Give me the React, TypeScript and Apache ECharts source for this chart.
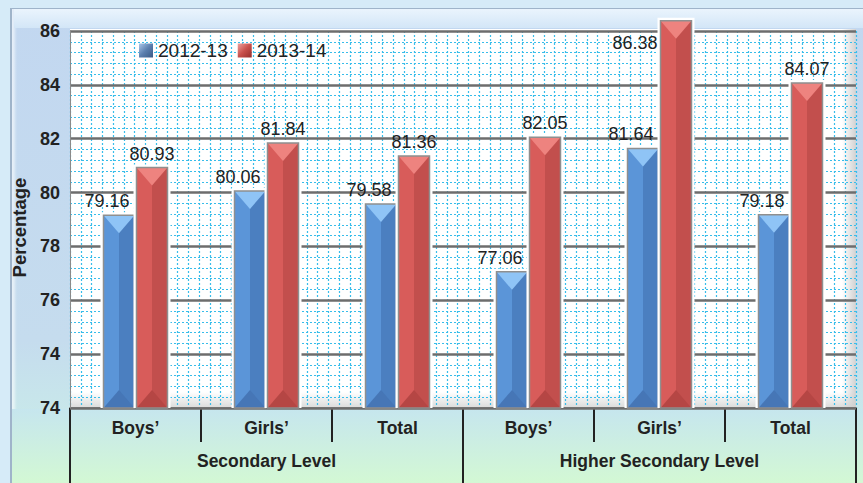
import React, { useEffect, useRef } from "react";
import * as echarts from "echarts";

const categories = ["Boys’", "Girls’", "Total", "Boys’", "Girls’", "Total"];
const levels = ["Secondary Level", "Higher Secondary Level"];
const seriesNames = ["2012-13", "2013-14"];
const values2012 = [79.16, 80.06, 79.58, 77.06, 81.64, 79.18];
const values2013 = [80.93, 81.84, 81.36, 82.05, 86.38, 84.07];
const yTicks = [72, 74, 76, 78, 80, 82, 84, 86];
const yTickLabels = ["74", "74", "76", "78", "80", "82", "84", "86"];
const minorColumns = 73;

const FONT = '"Liberation Sans", Arial, sans-serif';

const palettes = [
  { left: "#5b95d8", right: "#4b7fc0", top: "#8fc4f6", bottom: "#4676b6" },
  { left: "#d85c5a", right: "#c24f4d", top: "#ee837f", bottom: "#b54644" },
];

const makeRender = (side: number) => (params: any, api: any) => {
  const idx = api.value(0);
  const val = api.value(1);
  const p = api.coord([idx, val]);
  const b = api.coord([idx, yTicks[0]]);
  const cx = p[0];
  const yTop = p[1];
  const yBase = b[1];
  const w = 31;
  const x0 = side === 0 ? cx - 32 : cx + 1;
  const x1 = x0 + w;
  const xm = (x0 + x1) / 2;
  const h = yBase - yTop;
  const bev = Math.min(18, h / 2);
  const pal = palettes[side];
  const plotTop = params.coordSys && typeof params.coordSys.y === "number" ? params.coordSys.y : 31;
  let tx = side === 0 ? xm - 12 : xm;
  let ty = yTop - 5;
  let ta = "center";
  let va = "bottom";
  if (yTop - 24 < plotTop) {
    tx = x0 - 3;
    ty = yTop + 13;
    ta = "right";
    va = "top";
  }
  return {
    type: "group",
    children: [
      { type: "rect", shape: { x: x0 - 3, y: yTop - 3, width: w + 6, height: h + 3 }, style: { fill: "#ffffff" } },
      { type: "rect", shape: { x: xm, y: yTop, width: x1 - xm, height: h }, style: { fill: pal.right } },
      { type: "rect", shape: { x: x0, y: yTop, width: xm - x0, height: h }, style: { fill: pal.left } },
      { type: "polygon", shape: { points: [[x0, yTop], [x1, yTop], [xm, yTop + bev]] }, style: { fill: pal.top } },
      { type: "polygon", shape: { points: [[x0, yBase], [x1, yBase], [xm, yBase - bev]] }, style: { fill: pal.bottom } },
      { type: "rect", shape: { x: x0, y: yTop, width: w, height: h }, style: { fill: "none", stroke: "#8f8f8f", lineWidth: 1.5 } },
      {
        type: "text",
        x: tx,
        y: ty,
        style: { text: val.toFixed(2), fill: "#222222", fontSize: 18, fontFamily: FONT, align: ta, verticalAlign: va },
      },
    ],
  };
};

export default function App() {
  const ref = useRef<HTMLDivElement>(null);
  useEffect(() => {
    if (!ref.current) return;
    const chart = echarts.init(ref.current, null, { renderer: "svg" });
    const legendColors = [
      new echarts.graphic.LinearGradient(0, 0, 1, 1, [
        { offset: 0, color: "#a9c6ea" },
        { offset: 0.5, color: "#5b7fae" },
        { offset: 1, color: "#3a5a86" },
      ]),
      new echarts.graphic.LinearGradient(0, 0, 1, 1, [
        { offset: 0, color: "#f0a09c" },
        { offset: 0.5, color: "#c8504c" },
        { offset: 1, color: "#942e2c" },
      ]),
    ];
    const dataSets = [values2012, values2013];
    chart.setOption({
      animation: false,
      backgroundColor: "transparent",
      textStyle: { fontFamily: FONT },
      grid: { left: 70, right: 7, top: 31, bottom: 75, containLabel: false },
      legend: {
        data: seriesNames,
        left: 139,
        top: 41,
        padding: 0,
        icon: "rect",
        itemWidth: 14,
        itemHeight: 14,
        itemGap: 10,
        textStyle: { fontSize: 19, color: "#222222", fontFamily: FONT },
      },
      xAxis: [
        {
          type: "category",
          data: categories,
          position: "bottom",
          boundaryGap: true,
          axisLine: { show: true, lineStyle: { color: "#8a8a8a", width: 2 } },
          axisTick: { show: true, length: 34, lineStyle: { color: "#222222", width: 2 } },
          axisLabel: { fontSize: 17.5, fontWeight: "bold", color: "#222222", margin: 11, fontFamily: FONT },
          splitLine: { show: false },
        },
        {
          type: "category",
          data: levels,
          position: "bottom",
          boundaryGap: true,
          axisLine: { show: false },
          axisTick: { show: true, length: 76, lineStyle: { color: "#222222", width: 2 } },
          axisLabel: { fontSize: 17.5, fontWeight: "bold", color: "#222222", margin: 44, fontFamily: FONT },
          splitLine: { show: false },
        },
        {
          type: "value",
          min: 0,
          max: minorColumns,
          interval: 1,
          position: "top",
          axisLine: { show: false },
          axisTick: { show: false },
          axisLabel: { show: false },
          splitLine: { show: true, lineStyle: { color: "#38bdea", type: [2, 2], width: 1.2 } },
        },
      ],
      yAxis: {
        type: "value",
        min: yTicks[0],
        max: yTicks[yTicks.length - 1],
        interval: 2,
        z: 1,
        name: "Percentage",
        nameLocation: "middle",
        nameRotate: 90,
        nameGap: 39,
        nameTextStyle: {
          fontSize: 18.5,
          fontWeight: "bold",
          color: "#222222",
          fontFamily: FONT,
          padding: [0, 16, 0, 0],
        },
        axisLine: { show: true, lineStyle: { color: "#8a8a8a", width: 1 } },
        axisTick: { show: false },
        axisLabel: {
          fontSize: 18,
          fontWeight: "bold",
          color: "#222222",
          margin: 10,
          fontFamily: FONT,
          formatter: (v: number) => {
            const i = yTicks.indexOf(v);
            return i >= 0 ? yTickLabels[i] : "";
          },
        },
        splitLine: { show: true, lineStyle: { color: "#6d6d6d", width: 2.5 } },
        minorTick: { show: false, splitNumber: 5 },
        minorSplitLine: { show: true, lineStyle: { color: "#38bdea", type: [2, 2], width: 1.2 } },
      },
      series: seriesNames.map((name, side) => ({
        name,
        type: "custom",
        xAxisIndex: 0,
        yAxisIndex: 0,
        clip: false,
        itemStyle: { color: legendColors[side] },
        encode: { x: 0, y: 1 },
        data: dataSets[side].map((v, i) => [i, v]),
        renderItem: makeRender(side),
      })),
    });
    return () => chart.dispose();
  }, []);

  return (
    <div style={{ position: "fixed", left: 0, top: 0, width: 863, height: 483, overflow: "hidden", background: "#d6ebf8" }}>
      <div
        style={{
          position: "absolute",
          left: 10,
          top: 8,
          right: 0,
          bottom: 0,
          background: "linear-gradient(to bottom, #c2d7f0 0%, #c5dcee 70%, #c8e8ea 86%, #d4fad4 100%)",
          borderLeft: "2px solid #9fb4ca",
          borderTop: "1px solid #9fb4ca",
          boxShadow: "inset 3px 0 3px rgba(255,255,255,0.6)",
        }}
      />
      <div
        style={{
          position: "absolute",
          left: 14,
          top: 9,
          right: 0,
          height: 19,
          background: "linear-gradient(to bottom, #eaf4fd, #d3e6f7)",
        }}
      />
      <div
        style={{
          position: "absolute",
          left: 12,
          top: 409,
          right: 0,
          bottom: 0,
          background: "linear-gradient(to bottom, #c6e6ee, #d3f8d4)",
        }}
      />
      <div style={{ position: "absolute", left: 70, top: 29, width: 786, height: 379, background: "#ffffff" }} />
      <div
        style={{
          position: "absolute",
          left: 70,
          top: 392,
          width: 786,
          height: 16,
          background: "linear-gradient(to bottom, rgba(230,230,230,0), rgba(215,215,215,0.9))",
        }}
      />
      <div
        style={{
          position: "absolute",
          left: 842,
          top: 29,
          width: 14,
          height: 379,
          background: "linear-gradient(to right, rgba(235,235,235,0), rgba(205,205,205,0.9))",
        }}
      />
      <div ref={ref} style={{ position: "absolute", left: 0, top: 0, width: 863, height: 483 }} />
    </div>
  );
}
